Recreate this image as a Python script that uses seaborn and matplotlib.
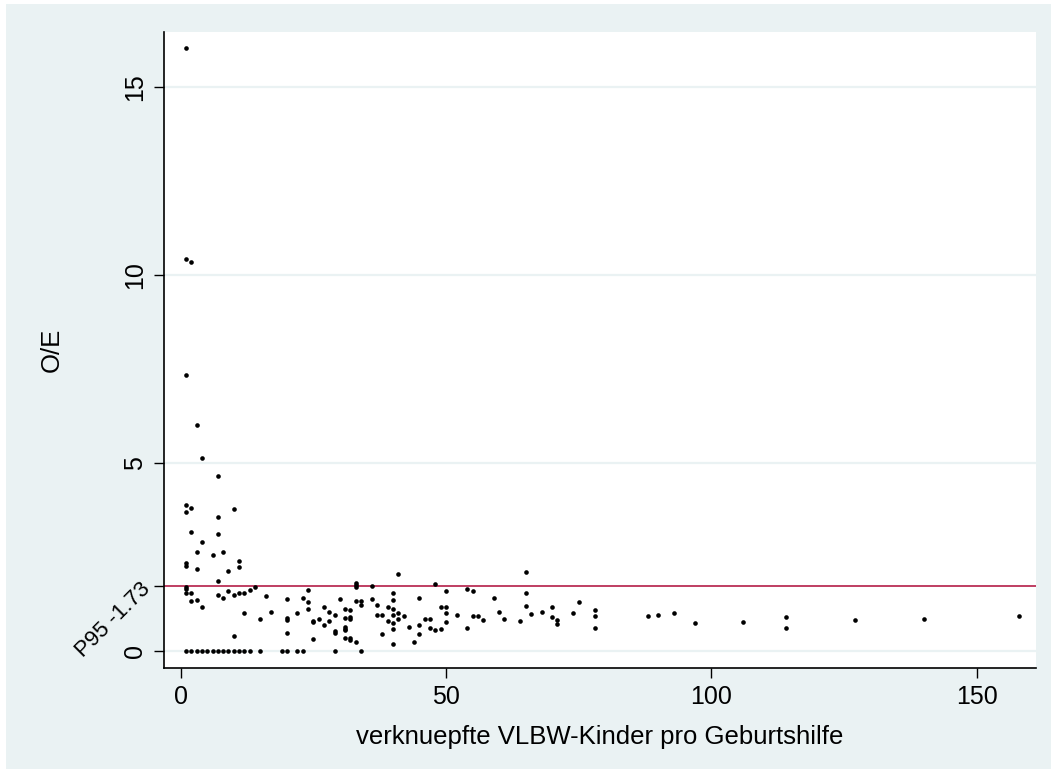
import pandas as pd
import numpy as np
import matplotlib
matplotlib.use("Agg")
import matplotlib.pyplot as plt
import seaborn as sns
from matplotlib.patches import Rectangle

# VLBW-Kinder pro Geburtshilfe (x) und O/E (y)
n_kinder = [1, 1, 1, 1, 1, 1, 1, 1, 1, 1, 1,
            2, 2, 2, 2, 2, 2,
            3, 3, 3, 3, 3,
            4, 4, 4, 4,
            5,
            6, 6,
            7, 7, 7, 7, 7, 7,
            8, 8, 8,
            9, 9, 9,
            10, 10, 10, 10,
            11, 11, 11, 11,
            12, 12, 12,
            13, 13,
            14,
            15, 15,
            16, 17, 19,
            20, 20, 20, 20, 20,
            22, 22, 23, 23,
            24, 24, 24,
            25, 25, 25,
            26, 27, 27, 28, 28,
            29, 29, 29, 29,
            30,
            31, 31, 31, 31, 31, 31,
            32, 32, 32, 32, 32,
            33, 33, 33, 33, 33,
            34, 34, 34,
            36, 36, 37, 37, 38, 38, 39, 39,
            40, 40, 40, 40, 40, 40, 40,
            41, 41, 41,
            42, 43, 44,
            45, 45, 45,
            46, 47, 47, 48, 48, 49, 49,
            50, 50, 50, 50,
            52, 54, 54, 55, 55, 56, 57, 59, 60, 61, 64,
            65, 65, 65,
            66, 68, 70, 70, 71, 71, 74, 75,
            78, 78, 78,
            88, 90, 93, 97, 106, 114, 114, 127, 140, 158]
oe = [16.03, 10.42, 7.34, 3.90, 3.70, 2.34, 2.28, 1.72, 1.66, 1.56, 0,
      10.35, 3.82, 3.16, 1.54, 1.33, 0,
      6.02, 2.64, 2.19, 1.37, 0,
      5.13, 2.90, 1.19, 0,
      0,
      2.57, 0,
      4.67, 3.57, 3.11, 1.87, 1.51, 0,
      2.63, 1.43, 0,
      2.14, 1.61, 0,
      3.78, 1.49, 0.42, 0,
      2.41, 2.25, 1.54, 0,
      1.56, 1.02, 0,
      1.64, 0,
      1.71,
      0.87, 0,
      1.46, 1.06, 0,
      1.40, 0.88, 0.83, 0.50, 0,
      1.02, 0, 1.43, 0,
      1.62, 1.30, 1.12,
      0.80, 0.77, 0.34,
      0.86, 1.17, 0.71, 1.04, 0.82,
      0.98, 0.53, 0.49, 0,
      1.38,
      1.13, 0.88, 0.65, 0.60, 0.56, 0.37,
      1.09, 0.91, 0.87, 0.37, 0.31,
      1.83, 1.76, 1.70, 1.33, 0.24,
      1.33, 1.24, 0,
      1.73, 1.40, 1.24, 0.96, 0.96, 0.47, 1.18, 0.82,
      1.56, 1.36, 1.14, 0.96, 0.75, 0.60, 0.20,
      2.05, 1.02, 0.87,
      0.93, 0.65, 0.25,
      1.42, 0.71, 0.47,
      0.87, 0.87, 0.63, 1.80, 0.57, 1.19, 0.59,
      1.60, 1.19, 1.02, 0.79,
      0.97, 1.66, 0.63, 1.61, 0.93, 0.93, 0.84, 1.43, 1.06, 0.85, 0.82,
      2.10, 1.56, 1.21,
      0.99, 1.04, 1.19, 0.91, 0.84, 0.73, 1.03, 1.32,
      1.09, 0.95, 0.62,
      0.95, 0.96, 1.01, 0.75, 0.78, 0.91, 0.62, 0.84, 0.86, 0.95]

p95 = 1.73
y_ticks = [0, p95, 5, 10, 15]
y_labels = ["0", "P95 -1.73", "5", "10", "15"]
x_ticks = [0, 50, 100, 150]

df = pd.DataFrame({"n": n_kinder, "oe": oe})

bg = "#eaf2f3"
sns.set_style("white")
plt.rcParams["font.family"] = ["Liberation Sans", "DejaVu Sans"]
plt.rcParams["text.color"] = "black"
plt.rcParams["axes.labelcolor"] = "black"
plt.rcParams["xtick.color"] = "black"
plt.rcParams["ytick.color"] = "black"

fig = plt.figure(figsize=(10.51, 7.69), dpi=100, facecolor="white")
fig.patches.append(Rectangle((6 / 1051, 0), 1 - 6 / 1051, 765 / 769,
                             transform=fig.transFigure, facecolor=bg,
                             edgecolor="none", zorder=-10))
ax = fig.add_axes([164 / 1051, 1 - 668 / 769, 872 / 1051, 636.3 / 769])
ax.set_facecolor("white")

for g in [0, 5, 10, 15]:
    ax.axhline(g, color=bg, lw=1.6, zorder=0)
ax.axhline(p95, color="#b41e48", lw=1.2, zorder=1)

sns.scatterplot(data=df, x="n", y="oe", ax=ax, color="black", s=11,
                linewidth=0, zorder=3)

ax.set_xlim(-3.15, 161.2)
ax.set_ylim(-0.44, 16.46)
ax.set_xticks(x_ticks)
ax.set_xticklabels([str(t) for t in x_ticks], fontsize=18)
ax.set_yticks(y_ticks)
ax.set_yticklabels(y_labels, fontsize=18)
for lab, txt in zip(ax.get_yticklabels(), y_labels):
    if txt.startswith("P95"):
        lab.set_rotation(45)
        lab.set_rotation_mode("anchor")
        lab.set_ha("right")
        lab.set_va("center")
        lab.set_fontsize(16)
    else:
        lab.set_rotation(90)
        lab.set_va("center")
ax.tick_params(axis="both", direction="out", length=7, width=1,
               color="black", labelcolor="black", pad=5, bottom=True, left=True)

for side in ["top", "right"]:
    ax.spines[side].set_visible(False)
for side in ["left", "bottom"]:
    ax.spines[side].set_color("black")
    ax.spines[side].set_linewidth(1.2)

ax.set_xlabel("verknuepfte VLBW-Kinder pro Geburtshilfe", fontsize=18.5,
              labelpad=12, color="black")
ax.set_ylabel("O/E", fontsize=18.5, labelpad=6, color="black")

fig.savefig("out.png", dpi=100, facecolor=fig.get_facecolor())
